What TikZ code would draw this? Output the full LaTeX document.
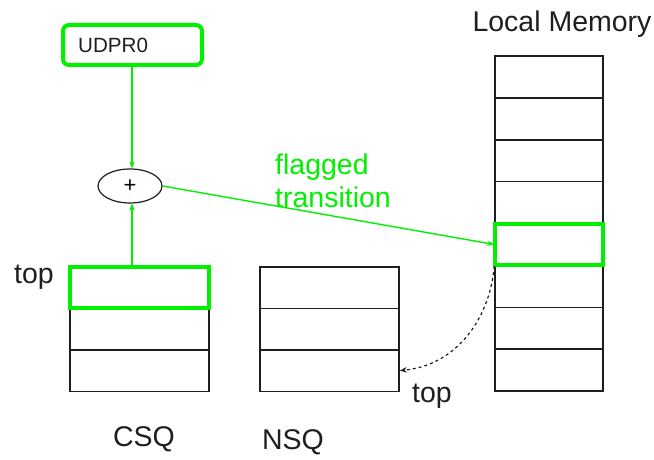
\documentclass[tikz,border=0pt]{standalone}
\usepackage{fontspec}
\setmainfont{Liberation Sans}
\usetikzlibrary{shapes.geometric,arrows.meta}
\definecolor{hl}{RGB}{0,240,0}
\definecolor{ink}{RGB}{30,30,30}
\tikzset{
  cell/.style={draw=ink, line width=1.5pt, minimum width=139pt, minimum height=41.5pt, inner sep=0pt},
  lmcell/.style={draw=ink, line width=1.5pt, minimum width=108pt, minimum height=41.875pt, inner sep=0pt},
  hot/.style={draw=hl, line width=4pt},
  lbl/.style={font=\fontsize{28.5}{34}\selectfont, text=ink, inner sep=0pt},
  flow/.style={draw=hl, line width=1.4pt, -{Stealth[length=7pt,width=5.5pt]}},
}
\begin{document}
\begin{tikzpicture}[x=1pt,y=-1pt]
\useasboundingbox (0,0) rectangle (654,460);

% register and adder
\node[draw=hl, line width=4pt, rounded corners=6pt, minimum width=139pt, minimum height=40pt, inner sep=0pt] (reg) at (132.5,45) {};
\node[font=\fontsize{20.6}{24}\selectfont, text=ink, anchor=west, inner sep=0pt] (regtxt) at (78,45) {UDPR0};
\node[ellipse, draw=ink, line width=1.2pt, minimum width=64pt, minimum height=34pt, inner sep=0pt, font=\fontsize{22}{26}\selectfont] (add) at (130,186) {+};

% CSQ
\node[cell] (c1) at (139.5,287.5) {};
\node[cell] (c2) at (139.5,329) {};
\node[cell] (c3) at (139.5,370.5) {};
\node[cell, hot] at (c1) {};

% NSQ
\node[cell] (n1) at (329.5,287.5) {};
\node[cell] (n2) at (329.5,329) {};
\node[cell] (n3) at (329.5,370.5) {};

% local memory
\foreach \i in {0,...,7}{
  \node[lmcell] (m\i) at (549,{56+41.875*(\i+0.5)}) {};
}
\node[lmcell, hot] at (m4) {};

% labels
\node[lbl] (lmlabel) at (562,24) {Local Memory};
\node[lbl, anchor=west] (ctop) at (14,277) {top};
\node[lbl] (ntop) at (432,396) {top};
\node[lbl] (csq) at (144,439) {CSQ};
\node[lbl] (nsq) at (293,442) {NSQ};
\node[lbl, text=hl, anchor=west, align=left, font=\fontsize{28.5}{33}\selectfont] (flag) at (275,181) {flagged\\transition};

% connectors
\draw[flow] (reg.south -| add.north) ++(2,0) coordinate (rs) -- (rs |- add.north);
\draw[flow] (c1.north -| add.south) ++(2,0) coordinate (cs) -- (cs |- add.south);
\draw[flow] (add.east) -- (m4.west);
\draw[ink, line width=1.2pt, dashed, -{Stealth[length=7pt,width=5.5pt]}] (m4.south west) to[out=-95, in=5] (n3.east);
\end{tikzpicture}
\end{document}
